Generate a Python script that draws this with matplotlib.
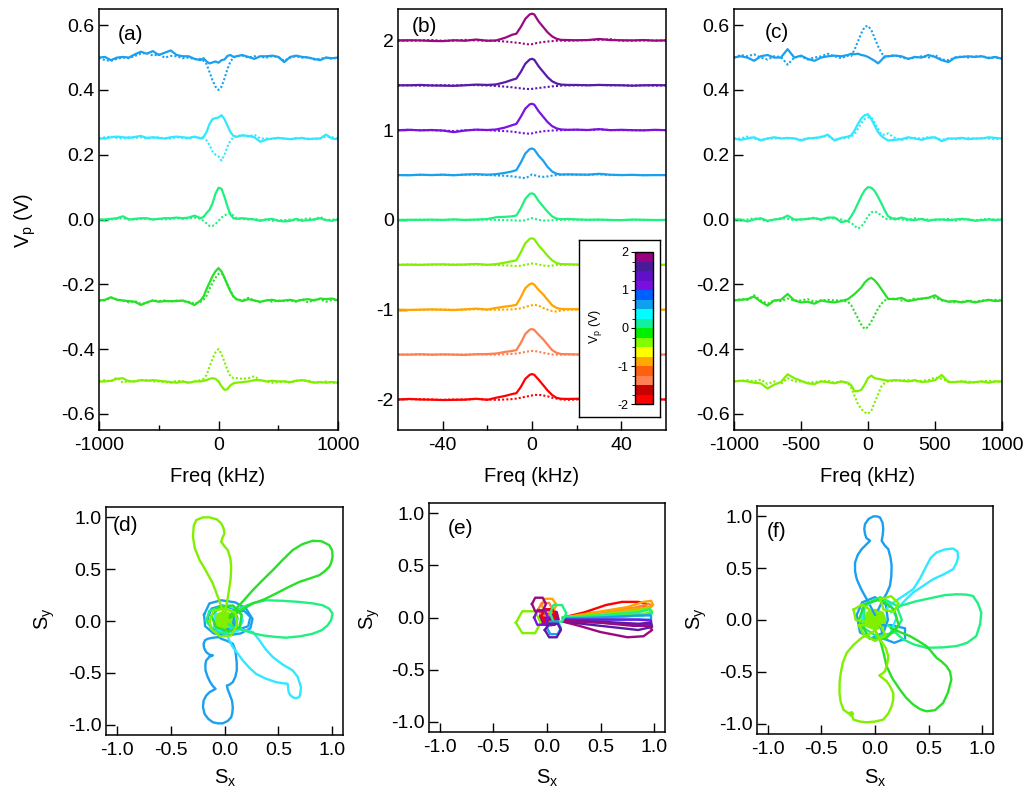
import numpy as np
import matplotlib
matplotlib.use("Agg")
import matplotlib.pyplot as plt
from matplotlib.colors import ListedColormap, BoundaryNorm
from matplotlib.cm import ScalarMappable
from matplotlib.ticker import FormatStrFormatter

plt.rcParams['font.family'] = ['Liberation Sans', 'DejaVu Sans']
plt.rcParams['font.size'] = 14
plt.rcParams['axes.unicode_minus'] = False
plt.rcParams['mathtext.default'] = 'regular'

# ---------------- colours (one per gate voltage Vp) ----------------
col_magenta = '#990a80'   # 2.0
col_indigo = '#5a1aa8'    # 1.5
col_violet = '#7a12e0'    # 1.0
col_blue = '#1aa0f0'      # 0.5
col_cyan = '#30e8ff'      # 0.25
col_aqua = '#20f080'      # 0.0
col_green = '#28e028'     # -0.25
col_yg = '#80f000'        # -0.5
col_orange = '#ffa500'    # -1.0
col_coral = '#ff7f50'     # -1.5
col_red = '#ff0000'       # -2.0

# colour scale of the inset (bottom to top, -2 .. 2 in steps of 0.25)
cb_colors = ['#ff0000', '#c80000', '#ff8050', '#ff6010', '#ffa800', '#ffff00',
             '#80ff00', '#00f000', '#10f0a0', '#00ffff', '#10a0f0', '#0060ff',
             '#7a10e0', '#6010c8', '#4a1a9a', '#990080']

# ---------------- panels (a) and (c): wide sweep ----------------
freq_ac = [-1000, -950, -900, -850, -800, -750, -700, -650, -600, -550,
           -500, -450, -400, -350, -300, -250, -200, -150, -125, -100,
           -75, -50, -25, 0, 25, 50, 75, 100, 125, 150,
           200, 250, 300, 350, 400, 450, 500, 550, 600, 650,
           700, 750, 800, 850, 900, 950, 1000]
offsets_ac = [0.5, 0.25, 0.0, -0.25, -0.5]
colors_ac = [col_blue, col_cyan, col_aqua, col_green, col_yg]

# signal minus offset, solid and dotted traces of (a)
a_p50_solid = [0, 0.002, -0.008, 0.0, 0.002, 0.0, 0.01, 0.018, 0.012, 0.02,
               0.008, 0.015, 0.022, 0.008, 0.004, 0.004, -0.004, -0.008, -0.002, -0.012,
               -0.018, -0.015, -0.012, -0.016, -0.008, -0.006, 0.005, 0.008, 0.002, 0.004,
               0.008, 0.002, -0.004, 0.004, 0.004, 0.006, 0.002, -0.014, 0.002, 0.006,
               0.002, 0.0, -0.004, -0.008, 0.0, -0.002, 0.0]
a_p50_dot = [0, -0.008, -0.01, -0.004, 0.0, -0.002, 0.005, 0.012, 0.015, 0.006,
             0.01, 0.0, 0.005, 0.004, -0.002, 0.0, -0.005, -0.004, -0.01, -0.02,
             -0.045, -0.07, -0.09, -0.1, -0.09, -0.065, -0.035, -0.012, 0.0, 0.004,
             0.006, 0.0, 0.004, 0.002, 0.0, 0.004, 0.002, -0.01, 0.0, 0.004,
             0.0, 0.002, -0.006, -0.004, 0.0, -0.004, 0.0]
a_p25_solid = [0, 0.0, 0.004, 0.006, 0.004, 0.002, 0.005, 0.008, 0.002, 0.004,
               0.002, 0.0, 0.004, 0.006, 0.004, 0.002, 0.006, 0.0, 0.005, 0.02,
               0.045, 0.06, 0.063, 0.065, 0.072, 0.06, 0.04, 0.02, 0.008, 0.005,
               0.01, 0.008, 0.004, -0.01, -0.003, 0.0, 0.002, 0.0, -0.002, 0.0,
               0.002, -0.002, 0.0, 0.0, 0.012, 0.0, -0.002]
a_p25_dot = [0, 0.004, 0.006, 0.002, 0.0, 0.004, 0.002, 0.004, 0.0, 0.002,
             0.004, 0.0, 0.0, 0.004, 0.002, 0.0, 0.004, 0.002, 0.0, -0.006,
             -0.02, -0.04, -0.05, -0.055, -0.068, -0.05, -0.025, -0.006, 0.004, 0.008,
             0.01, 0.006, 0.012, 0.0, 0.0, -0.002, 0.002, 0.0, -0.002, 0.002,
             0.0, 0.0, -0.002, 0.0, 0.006, 0.004, 0.0]
a_0_solid = [0, 0.0, 0.002, 0.004, 0.01, 0.0, 0.002, 0.004, 0.004, 0.0,
             0.002, 0.004, 0.004, 0.006, 0.004, 0.006, 0.012, 0.004, 0.008, 0.02,
             0.03, 0.05, 0.08, 0.098, 0.095, 0.07, 0.04, 0.015, 0.004, 0.002,
             0.004, 0.002, 0.0, -0.004, 0.0, 0.002, -0.004, -0.006, -0.004, 0.002,
             -0.004, -0.002, 0.0, 0.004, -0.002, -0.004, 0.0]
a_0_dot = [0, -0.004, 0.0, 0.002, 0.004, 0.0, 0.0, 0.002, 0.002, 0.0,
           0.002, 0.0, 0.002, 0.004, 0.002, 0.004, 0.006, 0.002, -0.004, -0.012,
           -0.02, -0.02, -0.014, -0.004, 0.006, 0.012, 0.018, 0.02, 0.012, 0.004,
           0.002, 0.0, 0.002, -0.002, 0.0, -0.004, -0.002, -0.002, 0.0, -0.004,
           0.0, 0.004, 0.0, 0.008, -0.002, 0.0, 0.0]
a_m25_solid = [0, 0.002, 0.01, 0.002, 0.0, -0.002, -0.004, -0.014, -0.006, 0.0,
               -0.004, -0.002, -0.002, -0.002, 0.0, -0.006, -0.014, 0.0, 0.012, 0.035,
               0.055, 0.075, 0.09, 0.1, 0.09, 0.07, 0.048, 0.028, 0.012, 0.004,
               -0.002, 0.004, 0.0, -0.004, 0.0, 0.002, -0.002, 0.0, 0.002, -0.002,
               0.002, 0.004, 0.0, 0.006, 0.004, 0.006, 0.0]
a_m25_dot = [0, 0.0, 0.008, 0.004, 0.0, -0.006, -0.002, -0.01, -0.008, 0.0,
             -0.002, 0.0, -0.004, 0.0, -0.002, -0.004, -0.01, -0.004, 0.002, 0.015,
             0.035, 0.055, 0.07, 0.082, 0.085, 0.07, 0.05, 0.03, 0.012, 0.004,
             0.0, 0.008, 0.0, -0.006, 0.002, -0.004, 0.0, -0.002, 0.0, -0.004,
             0.004, -0.006, 0.002, 0.004, -0.004, 0.002, 0.0]
a_m50_solid = [0, 0.0, 0.002, 0.008, 0.01, 0.0, 0.0, 0.004, 0.002, 0.004,
               0.002, 0.0, -0.002, -0.004, 0.0, -0.004, 0.0, 0.0, 0.002, 0.004,
               0.008, 0.01, 0.008, 0.0, -0.015, -0.026, -0.024, -0.012, -0.006, -0.004,
               -0.002, 0.0, 0.004, 0.004, 0.0, 0.002, 0.0, 0.0, -0.002, 0.002,
               0.004, 0.0, -0.004, -0.002, -0.004, -0.002, -0.004]
a_m50_dot = [0, 0.004, 0.0, 0.012, -0.004, 0.002, 0.0, 0.004, 0.004, 0.0,
             0.0, -0.002, -0.004, 0.002, 0.0, -0.004, 0.0, 0.004, 0.008, 0.02,
             0.045, 0.07, 0.09, 0.1, 0.085, 0.06, 0.035, 0.015, 0.01, 0.01,
             0.008, 0.01, 0.016, 0.004, 0.0, -0.004, -0.002, 0.0, -0.004, 0.002,
             0.004, 0.002, -0.002, -0.004, 0.0, -0.004, -0.004]

# signal minus offset, solid and dotted traces of (c)
c_p50_solid = [0, 0.004, 0.0, -0.01, 0.004, 0.008, 0.0, 0.0, 0.026, 0.0,
               0.006, -0.004, -0.01, 0.0, 0.004, 0.006, 0.004, 0.008, 0.012, 0.01,
               0.012, 0.008, 0.006, 0.002, -0.004, -0.01, -0.018, -0.008, 0.004, 0.004,
               0.006, 0.004, -0.004, 0.002, 0.0, 0.008, 0.002, -0.008, -0.014, 0.0,
               0.002, 0.004, 0.002, 0.004, -0.002, 0.002, -0.004]
c_p50_dot = [0, 0.008, 0.004, 0.01, 0.0, -0.006, 0.004, 0.002, -0.022, 0.0,
             0.004, -0.006, 0.0, 0.004, 0.012, 0.004, -0.002, 0.006, 0.005, 0.025,
             0.05, 0.075, 0.095, 0.098, 0.085, 0.06, 0.035, 0.015, 0.0, 0.004,
             0.008, 0.0, -0.004, 0.0, 0.004, 0.0, 0.008, -0.006, -0.008, 0.0,
             0.004, 0.0, 0.004, 0.004, 0.0, 0.0, -0.002]
c_p25_solid = [0, -0.004, 0.0, 0.004, -0.006, 0.0, 0.004, 0.0, 0.002, 0.0,
               -0.006, 0.0, 0.002, 0.004, 0.012, -0.006, 0.002, 0.006, 0.01, 0.025,
               0.045, 0.062, 0.072, 0.075, 0.06, 0.04, 0.02, 0.008, 0.0, -0.006,
               -0.004, -0.002, 0.004, 0.0, -0.004, 0.002, 0.004, -0.008, 0.0, 0.0,
               0.002, -0.002, 0.0, 0.0, 0.004, 0.002, 0.0]
c_p25_dot = [0, 0.0, 0.006, 0.0, -0.004, 0.0, 0.0, 0.002, 0.0, 0.002,
             -0.004, 0.002, 0.0, 0.006, 0.008, -0.004, 0.0, 0.002, 0.006, 0.015,
             0.03, 0.048, 0.06, 0.065, 0.065, 0.05, 0.03, 0.012, 0.012, 0.016,
             0.002, -0.004, 0.0, 0.002, 0.0, 0.004, 0.002, -0.004, 0.0, -0.002,
             0.0, 0.002, 0.0, 0.002, 0.0, -0.002, 0.0]
c_0_solid = [0, 0.0, -0.006, 0.0, 0.004, -0.004, 0.0, 0.002, 0.012, 0.0,
             0.0, 0.002, 0.004, 0.0, 0.006, 0.006, -0.008, -0.004, 0.01, 0.028,
             0.05, 0.072, 0.09, 0.1, 0.098, 0.088, 0.07, 0.05, 0.028, 0.01,
             0.0, 0.006, 0.0, -0.002, 0.002, -0.004, 0.0, 0.0, -0.002, 0.0,
             0.002, 0.0, -0.004, -0.002, 0.0, -0.002, 0.0]
c_0_dot = [0, -0.002, 0.0, 0.004, 0.0, -0.006, 0.0, 0.004, 0.002, -0.002,
           0.0, 0.002, 0.006, -0.002, 0.004, 0.004, 0.0, -0.006, -0.01, -0.02,
           -0.028, -0.022, -0.008, 0.01, 0.022, 0.025, 0.02, 0.012, 0.004, 0.0,
           0.004, 0.0, -0.002, 0.004, 0.0, 0.0, -0.002, 0.0, 0.002, -0.004,
           0.0, 0.0, -0.002, 0.0, 0.002, 0.0, 0.0]
c_m25_solid = [0, 0.002, 0.004, 0.012, -0.004, -0.016, 0.0, 0.002, 0.02, 0.0,
               -0.006, -0.004, -0.01, 0.0, -0.004, -0.006, -0.002, 0.004, 0.012, 0.02,
               0.03, 0.04, 0.055, 0.065, 0.07, 0.062, 0.05, 0.035, 0.02, 0.005,
               0.004, 0.008, -0.002, 0.002, 0.006, 0.008, 0.016, 0.002, -0.004, -0.002,
               -0.006, -0.002, -0.006, -0.002, 0.002, -0.002, 0.0]
c_m25_dot = [0, 0.004, 0.002, 0.016, 0.0, -0.01, 0.0, -0.002, 0.006, 0.0,
             0.0, 0.004, -0.004, 0.0, 0.002, 0.0, 0.0, -0.004, -0.015, -0.035,
             -0.055, -0.075, -0.088, -0.082, -0.065, -0.045, -0.025, -0.01, 0.0, 0.004,
             0.006, 0.0, 0.0, 0.006, 0.004, 0.01, 0.008, 0.0, -0.002, -0.006,
             -0.004, 0.0, -0.004, 0.0, 0.0, 0.002, 0.0]
c_m50_solid = [0, 0.002, 0.0, -0.004, -0.006, -0.022, -0.01, -0.002, 0.022, 0.01,
               0.002, -0.006, -0.008, 0.0, -0.002, -0.006, 0.0, -0.004, -0.012, -0.03,
               -0.03, -0.026, -0.01, 0.01, 0.018, 0.01, 0.008, 0.006, 0.004, 0.002,
               0.004, 0.002, 0.0, 0.004, -0.002, 0.0, 0.004, 0.02, -0.002, -0.002,
               0.0, -0.004, -0.002, 0.0, -0.004, 0.0, 0.0]
c_m50_dot = [0, 0.002, 0.004, 0.0, 0.006, -0.008, 0.0, -0.008, 0.01, 0.0,
             0.0, -0.004, -0.002, 0.0, 0.002, -0.004, 0.0, -0.006, -0.02, -0.045,
             -0.07, -0.085, -0.095, -0.1, -0.09, -0.065, -0.04, -0.015, -0.005, 0.0,
             0.002, 0.004, 0.004, 0.0, 0.002, 0.004, 0.012, 0.008, 0.0, -0.002,
             0.0, 0.0, -0.004, 0.0, 0.002, 0.0, -0.002]

# ---------------- panel (b): narrow sweep ----------------
freq_b = [-60, -55, -50, -45, -40, -35, -30, -25, -20,
          -16, -12, -9, -7, -5, -3, -1, 0, 1, 3, 5, 7, 9, 11, 13, 16,
          20, 25, 30, 35, 40, 45, 50, 55, 60]
offsets_b = [2.0, 1.5, 1.0, 0.5, 0.0, -0.5, -1.0, -1.5, -2.0]
colors_b = [col_magenta, col_indigo, col_violet, col_blue, col_aqua,
            col_yg, col_orange, col_coral, col_red]

b_p200_solid = [0.0, 0.002, 0.0, -0.006, -0.008, 0.002, -0.004, 0.01, -0.004,
                0.0, 0.03, 0.062, 0.075, 0.15, 0.24, 0.29, 0.298, 0.29, 0.21, 0.15, 0.09, 0.045, 0.018, 0.006, 0.004,
                0.002, 0.004, 0.016, 0.004, 0.002, 0.0, 0.004, -0.002, 0.0]
b_p150_solid = [0.0, 0.0, 0.004, -0.002, -0.004, -0.006, 0.0, 0.008, 0.004,
                0.01, 0.035, 0.06, 0.075, 0.15, 0.24, 0.288, 0.295, 0.285, 0.21, 0.15, 0.09, 0.045, 0.02, 0.008, 0.004,
                0.004, 0.0, 0.004, 0.002, 0.0, -0.004, 0.0, 0.002, 0.0]
b_p100_solid = [0.0, 0.004, -0.002, 0.002, -0.004, -0.022, -0.004, 0.006, 0.002,
                0.008, 0.03, 0.055, 0.07, 0.15, 0.24, 0.288, 0.294, 0.285, 0.21, 0.15, 0.09, 0.045, 0.02, 0.008, 0.004,
                0.006, 0.002, 0.012, 0.0, 0.004, 0.0, -0.002, 0.004, 0.0]
b_p050_solid = [0.0, -0.002, 0.004, 0.0, 0.004, -0.002, 0.006, 0.01, 0.004,
                0.01, 0.025, 0.04, 0.055, 0.14, 0.24, 0.29, 0.296, 0.285, 0.215, 0.16, 0.09, 0.04, 0.015, 0.006, 0.008,
                0.006, 0.004, 0.014, 0.004, 0.0, 0.002, -0.002, 0.0, 0.0]
b_0_solid = [0.0, 0.002, 0.0, 0.004, 0.0, 0.006, 0.0, 0.004, 0.01,
             0.03, 0.035, 0.04, 0.05, 0.13, 0.235, 0.29, 0.297, 0.285, 0.21, 0.15, 0.09, 0.04, 0.015, 0.008, 0.012,
             0.006, 0.002, 0.004, 0.0, -0.002, 0.004, 0.002, 0.0, 0.0]
b_m050_solid = [0.0, 0.002, 0.0, 0.004, 0.006, 0.0, 0.004, 0.01, 0.0,
                0.008, 0.025, 0.04, 0.05, 0.14, 0.24, 0.29, 0.296, 0.285, 0.215, 0.16, 0.1, 0.05, 0.02, 0.008, 0.006,
                0.004, 0.002, 0.0, 0.004, 0.0, 0.002, 0.0, 0.002, 0.0]
b_m100_solid = [0.0, -0.002, 0.0, 0.004, 0.0, -0.004, 0.004, 0.012, 0.002,
                0.02, 0.035, 0.045, 0.055, 0.14, 0.24, 0.285, 0.294, 0.28, 0.22, 0.17, 0.11, 0.05, 0.02, 0.008, 0.006,
                0.006, 0.004, 0.0, 0.002, 0.0, 0.0, 0.002, 0.0, 0.0]
b_m150_solid = [0.0, 0.0, 0.004, 0.0, 0.002, 0.0, -0.004, 0.004, 0.006,
                0.012, 0.03, 0.04, 0.05, 0.13, 0.23, 0.278, 0.285, 0.275, 0.22, 0.17, 0.11, 0.05, 0.02, 0.006, 0.004,
                0.002, 0.0, 0.002, 0.0, 0.0, 0.002, 0.0, 0.0, 0.0]
b_m200_solid = [0.0, 0.006, 0.0, -0.002, -0.006, -0.004, -0.002, 0.008, -0.004,
                0.02, 0.04, 0.06, 0.07, 0.14, 0.23, 0.275, 0.283, 0.275, 0.22, 0.16, 0.1, 0.05, 0.018, 0.008, 0.006,
                0.008, 0.004, 0.0, 0.002, 0.0, 0.0, 0.0, 0.0, 0.0]

b_p200_dot = [0.0, -0.004, 0.0, 0.004, -0.004, -0.002, 0.006, 0.0, -0.002,
              -0.006, -0.012, -0.02, -0.025, -0.03, -0.04, -0.045, -0.042, -0.035, -0.025, -0.018, -0.012, -0.008, -0.004, -0.002, -0.004,
              0.0, 0.004, 0.006, 0.014, -0.004, -0.002, 0.0, -0.002, 0.0]
b_p150_dot = [0.0, 0.0, -0.004, 0.0, 0.002, -0.002, 0.004, 0.002, -0.002,
              -0.008, -0.015, -0.022, -0.028, -0.034, -0.04, -0.042, -0.04, -0.036, -0.03, -0.024, -0.018, -0.012, -0.008, -0.004, -0.002,
              0.0, 0.002, 0.004, 0.0, 0.002, -0.004, 0.0, -0.004, 0.0]
b_p100_dot = [0.0, 0.004, 0.0, 0.0, -0.004, -0.01, 0.0, 0.004, 0.0,
              -0.006, -0.01, -0.016, -0.022, -0.03, -0.036, -0.04, -0.036, -0.028, -0.02, -0.012, -0.008, -0.004, -0.002, 0.0, 0.002,
              0.004, 0.0, 0.008, 0.002, 0.0, 0.0, 0.0, 0.002, 0.0]
b_p050_dot = [0.0, 0.0, 0.002, 0.0, 0.004, 0.0, 0.004, 0.006, 0.0,
              -0.004, -0.008, -0.014, -0.02, -0.028, -0.035, -0.01, 0.008, 0.0, -0.015, -0.02, -0.015, -0.006, 0.0, 0.004, 0.006,
              0.004, 0.004, 0.008, 0.0, 0.0, 0.002, 0.0, 0.0, 0.0]
b_0_dot = [0.0, 0.0, 0.004, 0.0, 0.0, 0.004, 0.0, 0.002, 0.004,
           0.0, -0.002, -0.004, -0.006, -0.008, -0.004, 0.012, 0.02, 0.015, 0.0, -0.006, -0.006, -0.004, 0.0, 0.002, 0.004,
           0.002, 0.0, 0.002, 0.0, -0.002, 0.002, 0.0, -0.002, 0.0]
b_m050_dot = [0.0, 0.004, 0.0, 0.002, 0.0, 0.004, 0.0, 0.004, 0.0,
              -0.002, -0.006, -0.01, -0.012, -0.01, 0.0, 0.01, 0.015, 0.012, 0.004, -0.008, -0.012, -0.008, -0.002, 0.0, 0.002,
              0.0, 0.002, 0.0, 0.0, 0.002, 0.0, 0.0, 0.0, 0.0]
b_m100_dot = [0.0, -0.004, 0.0, 0.0, 0.002, 0.0, 0.0, 0.006, 0.0,
              0.0, 0.002, 0.004, 0.008, 0.015, 0.03, 0.045, 0.05, 0.055, 0.045, 0.02, 0.0, -0.015, -0.02, -0.01, 0.0,
              0.002, 0.0, 0.0, 0.0, 0.0, 0.0, 0.0, 0.0, 0.0]
b_m150_dot = [0.0, 0.0, 0.0, -0.004, 0.002, 0.0, 0.002, 0.004, 0.0,
              0.0, 0.004, 0.008, 0.012, 0.02, 0.03, 0.038, 0.04, 0.04, 0.032, 0.02, 0.01, 0.002, -0.002, 0.0, 0.002,
              0.0, 0.0, 0.0, 0.0, 0.0, 0.0, 0.0, 0.0, 0.0]
b_m200_dot = [0.0, 0.004, 0.002, 0.0, -0.004, 0.0, 0.0, 0.006, 0.0,
              -0.004, 0.0, 0.004, 0.01, 0.02, 0.03, 0.04, 0.045, 0.05, 0.052, 0.045, 0.035, 0.02, 0.01, 0.0, -0.004,
              0.0, 0.0, 0.0, 0.0, 0.0, 0.0, 0.0, 0.0, 0.0]

# ---------------- panel (d): Sx, Sy trajectories ----------------
d_yg_petal = [(0.0, 0.05), (-0.05, 0.2), (-0.108, 0.361), (-0.17, 0.48), (-0.231, 0.587),
              (-0.275, 0.7), (-0.293, 0.813), (-0.285, 0.92), (-0.262, 0.974), (-0.2, 1.0),
              (-0.139, 1.0), (-0.07, 0.98), (-0.031, 0.942), (-0.01, 0.9), (0.0, 0.845),
              (-0.02, 0.8), (-0.031, 0.765), (0.0, 0.72), (0.031, 0.684), (0.055, 0.6),
              (0.062, 0.523), (0.058, 0.42), (0.046, 0.329), (0.03, 0.22), (0.015, 0.135), (0.0, 0.05)]
d_green_petal = [(0.05, 0.05), (0.108, 0.12), (0.18, 0.2), (0.262, 0.297), (0.35, 0.39),
                 (0.448, 0.49), (0.54, 0.59), (0.633, 0.684), (0.72, 0.74), (0.818, 0.774),
                 (0.9, 0.77), (0.972, 0.732), (1.0, 0.68), (1.003, 0.619), (0.99, 0.56),
                 (0.972, 0.523), (0.93, 0.48), (0.88, 0.442), (0.79, 0.41), (0.694, 0.377),
                 (0.58, 0.32), (0.478, 0.265), (0.37, 0.21), (0.262, 0.168), (0.18, 0.12),
                 (0.108, 0.071), (0.05, 0.03)]
d_aqua_petal = [(0.05, 0.05), (0.1, 0.1), (0.17, 0.135), (0.27, 0.175), (0.386, 0.2),
                (0.54, 0.195), (0.694, 0.184), (0.82, 0.17), (0.91, 0.152), (0.97, 0.12),
                (1.003, 0.071), (0.99, 0.01), (0.957, -0.042), (0.9, -0.09), (0.818, -0.123),
                (0.7, -0.148), (0.571, -0.161), (0.46, -0.152), (0.355, -0.139), (0.27, -0.12),
                (0.2, -0.097), (0.13, -0.075), (0.077, -0.058), (0.04, -0.03)]
d_cyan_petal = [(0.05, -0.06), (0.12, -0.08), (0.2, -0.09), (0.262, -0.106), (0.32, -0.18),
                (0.38, -0.27), (0.448, -0.348), (0.54, -0.42), (0.633, -0.477), (0.68, -0.54),
                (0.71, -0.639), (0.704, -0.7), (0.694, -0.735), (0.66, -0.745), (0.633, -0.735),
                (0.61, -0.715), (0.596, -0.687), (0.59, -0.64), (0.586, -0.606), (0.54, -0.6),
                (0.478, -0.59), (0.38, -0.555), (0.293, -0.51), (0.23, -0.45), (0.17, -0.381),
                (0.12, -0.31), (0.077, -0.252), (0.05, -0.2), (0.03, -0.15)]
d_blue_petal = [(-0.046, -0.155), (-0.031, -0.171), (0.02, -0.19), (0.077, -0.219), (0.1, -0.28),
                (0.108, -0.348), (0.114, -0.41), (0.114, -0.477), (0.1, -0.54), (0.077, -0.59),
                (0.045, -0.615), (0.022, -0.623), (0.03, -0.66), (0.046, -0.703), (0.07, -0.77),
                (0.077, -0.832), (0.072, -0.89), (0.062, -0.929), (0.03, -0.965), (-0.015, -0.987),
                (-0.06, -0.988), (-0.108, -0.977), (-0.15, -0.945), (-0.185, -0.897), (-0.2, -0.83),
                (-0.194, -0.768), (-0.17, -0.72), (-0.139, -0.687), (-0.083, -0.655), (-0.11, -0.625),
                (-0.133, -0.59), (-0.16, -0.53), (-0.176, -0.477), (-0.178, -0.42), (-0.17, -0.381),
                (-0.14, -0.345), (-0.108, -0.332), (-0.14, -0.325), (-0.17, -0.3), (-0.19, -0.26),
                (-0.194, -0.219), (-0.18, -0.185), (-0.154, -0.171), (-0.1, -0.16), (-0.046, -0.155)]
d_blue_ring1 = [(-0.19, 0.06), (-0.14, 0.17), (-0.03, 0.2), (0.1, 0.18), (0.2, 0.12), (0.26, 0.02),
                (0.24, -0.07), (0.15, -0.12), (0.02, -0.14), (-0.1, -0.12), (-0.18, -0.05), (-0.19, 0.06)]
d_blue_ring2 = [(-0.16, 0.02), (-0.12, 0.12), (-0.02, 0.15), (0.08, 0.12), (0.12, 0.03),
                (0.08, -0.06), (-0.02, -0.1), (-0.12, -0.07), (-0.16, 0.02)]
d_blue_ring3 = [(0.1, 0.08), (0.18, 0.1), (0.24, 0.04), (0.22, -0.05), (0.14, -0.08), (0.08, -0.02), (0.1, 0.08)]
d_cyan_ring = [(-0.08, 0.1), (0.03, 0.15), (0.14, 0.1), (0.17, 0.0), (0.12, -0.1), (0.0, -0.12),
               (-0.1, -0.06), (-0.08, 0.1)]
d_aqua_ring = [(-0.17, 0.0), (-0.14, 0.1), (-0.04, 0.13), (0.06, 0.1), (0.12, 0.02), (0.1, -0.08),
               (0.0, -0.12), (-0.1, -0.1), (-0.17, 0.0)]
d_green_ring = [(-0.12, 0.05), (-0.05, 0.14), (0.08, 0.15), (0.16, 0.06), (0.14, -0.06),
                (0.04, -0.1), (-0.08, -0.06), (-0.12, 0.05)]
d_yg_ring = [(-0.14, 0.0), (-0.1, 0.1), (0.0, 0.12), (0.1, 0.08), (0.12, -0.04), (0.06, -0.14),
             (-0.04, -0.15), (-0.12, -0.08), (-0.14, 0.0)]
d_core = [(-0.1, 0.0), (-0.08, 0.07), (0.0, 0.1), (0.08, 0.07), (0.11, 0.0), (0.08, -0.07),
          (0.0, -0.09), (-0.08, -0.06)]

# ---------------- panel (e) ----------------
e_red_petal = [(0.15, 0.0), (0.35, 0.05), (0.55, 0.12), (0.7, 0.15), (0.85, 0.15), (0.93, 0.13),
               (0.9, 0.1), (0.75, 0.08), (0.55, 0.04), (0.35, 0.01), (0.15, -0.01)]
e_coral_petal = [(0.15, 0.0), (0.5, 0.04), (0.8, 0.09), (0.95, 0.13), (0.98, 0.11), (0.93, 0.08),
                 (0.7, 0.05), (0.4, 0.02), (0.15, -0.01)]
e_orange_petal = [(0.15, 0.0), (0.45, 0.05), (0.75, 0.1), (0.9, 0.15), (0.97, 0.16), (0.99, 0.12),
                  (0.95, 0.1), (0.8, 0.08), (0.5, 0.03), (0.15, -0.01)]
e_yg_petal = [(0.15, 0.0), (0.5, 0.03), (0.8, 0.06), (0.95, 0.09), (0.98, 0.06), (0.93, 0.04),
              (0.7, 0.02), (0.4, 0.0), (0.15, -0.01)]
e_aqua_petal = [(0.15, 0.0), (0.5, 0.02), (0.85, 0.05), (0.96, 0.08), (0.98, 0.04), (0.9, 0.02),
                (0.6, 0.0), (0.15, -0.02)]
e_blue_petal = [(0.15, -0.01), (0.5, 0.0), (0.85, 0.02), (0.97, 0.02), (0.97, -0.02), (0.85, -0.02),
                (0.5, -0.02), (0.15, -0.02)]
e_violet_petal = [(0.15, -0.02), (0.5, -0.02), (0.85, -0.02), (0.97, -0.03), (0.97, -0.07),
                  (0.85, -0.07), (0.5, -0.05), (0.15, -0.03)]
e_indigo_petal = [(0.15, -0.03), (0.5, -0.04), (0.85, -0.06), (0.97, -0.05), (0.98, -0.09),
                  (0.85, -0.12), (0.5, -0.08), (0.15, -0.04)]
e_magenta_petal = [(0.15, -0.03), (0.5, -0.05), (0.8, -0.08), (0.95, -0.08), (0.98, -0.12),
                   (0.9, -0.18), (0.75, -0.19), (0.5, -0.14), (0.3, -0.08), (0.15, -0.04)]
e_yg_hex = [(-0.29, -0.05), (-0.23, 0.06), (-0.11, 0.06), (-0.06, -0.05), (-0.11, -0.15),
            (-0.23, -0.15), (-0.29, -0.05)]
e_magenta_hex = [(-0.14, 0.13), (-0.11, 0.19), (-0.04, 0.19), (-0.01, 0.13), (-0.04, 0.06),
                 (-0.11, 0.06), (-0.14, 0.13)]
e_orange_hex = [(-0.05, 0.12), (-0.02, 0.18), (0.05, 0.18), (0.09, 0.12), (0.05, 0.05),
                (-0.02, 0.05), (-0.05, 0.12)]
e_coral_hex = [(-0.08, 0.08), (-0.05, 0.14), (0.02, 0.14), (0.05, 0.08), (0.02, 0.02),
               (-0.05, 0.02), (-0.08, 0.08)]
e_red_hex = [(-0.05, 0.02), (-0.02, 0.08), (0.05, 0.08), (0.08, 0.02), (0.05, -0.04),
             (-0.02, -0.04), (-0.05, 0.02)]
e_aqua_hex = [(0.03, 0.04), (0.06, 0.12), (0.14, 0.12), (0.18, 0.04), (0.14, -0.04),
              (0.06, -0.04), (0.03, 0.04)]
e_blue_hex = [(0.0, -0.1), (0.03, -0.04), (0.1, -0.04), (0.13, -0.1), (0.1, -0.16),
              (0.03, -0.16), (0.0, -0.1)]
e_indigo_hex = [(-0.02, -0.12), (0.02, -0.06), (0.1, -0.06), (0.13, -0.12), (0.09, -0.19),
                (0.02, -0.19), (-0.02, -0.12)]
e_violet_hex = [(-0.12, 0.0), (-0.09, 0.07), (-0.02, 0.07), (0.01, 0.0), (-0.02, -0.07),
                (-0.09, -0.07), (-0.12, 0.0)]
e_core = [(-0.08, 0.0), (-0.06, 0.07), (0.02, 0.09), (0.1, 0.06), (0.12, -0.02), (0.08, -0.08),
          (0.0, -0.09), (-0.06, -0.06)]

# ---------------- panel (f) ----------------
f_blue_petal = [(0.0, 0.05), (-0.077, 0.2), (-0.13, 0.3), (-0.17, 0.394), (-0.186, 0.47),
                (-0.186, 0.555), (-0.16, 0.63), (-0.124, 0.684), (-0.08, 0.73), (-0.046, 0.765),
                (-0.08, 0.79), (-0.093, 0.829), (-0.1, 0.88), (-0.093, 0.926), (-0.06, 0.975),
                (-0.015, 1.0), (0.02, 1.0), (0.046, 0.99), (0.07, 0.94), (0.077, 0.877),
                (0.072, 0.82), (0.062, 0.765), (0.09, 0.72), (0.124, 0.684), (0.145, 0.6),
                (0.155, 0.523), (0.152, 0.42), (0.139, 0.329), (0.11, 0.26), (0.077, 0.2), (0.03, 0.1)]
f_cyan_petal = [(0.1, 0.1), (0.17, 0.168), (0.26, 0.23), (0.356, 0.297), (0.42, 0.4), (0.48, 0.523),
                (0.52, 0.6), (0.573, 0.652), (0.65, 0.68), (0.728, 0.69), (0.77, 0.66), (0.774, 0.603),
                (0.76, 0.55), (0.728, 0.49), (0.64, 0.44), (0.542, 0.394), (0.45, 0.33), (0.356, 0.265),
                (0.29, 0.2), (0.232, 0.135), (0.15, 0.08)]
f_aqua_petal = [(0.15, 0.08), (0.232, 0.135), (0.38, 0.18), (0.542, 0.216), (0.65, 0.24),
                (0.759, 0.248), (0.85, 0.245), (0.913, 0.232), (0.96, 0.16), (0.991, 0.071),
                (0.98, -0.04), (0.944, -0.155), (0.86, -0.22), (0.759, -0.252), (0.62, -0.265),
                (0.48, -0.268), (0.36, -0.235), (0.263, -0.187), (0.2, -0.13), (0.17, -0.09), (0.12, -0.05)]
f_green_petal = [(0.0, -0.1), (0.046, -0.187), (0.08, -0.32), (0.108, -0.445), (0.16, -0.56),
                 (0.232, -0.671), (0.29, -0.75), (0.356, -0.816), (0.42, -0.86), (0.48, -0.881),
                 (0.56, -0.87), (0.635, -0.8), (0.68, -0.7), (0.712, -0.574), (0.7, -0.5),
                 (0.666, -0.445), (0.62, -0.4), (0.573, -0.365), (0.53, -0.31), (0.48, -0.252),
                 (0.4, -0.2), (0.325, -0.155), (0.24, -0.12), (0.15, -0.08)]
f_yg_petal = [(0.0, -0.1), (-0.06, -0.14), (-0.124, -0.171), (-0.2, -0.24), (-0.263, -0.316),
              (-0.3, -0.41), (-0.319, -0.51), (-0.33, -0.6), (-0.331, -0.703), (-0.32, -0.79),
              (-0.294, -0.865), (-0.25, -0.9), (-0.215, -0.89), (-0.205, -0.905), (-0.215, -0.925),
              (-0.235, -0.915), (-0.225, -0.9), (-0.201, -0.961), (-0.14, -0.98), (-0.077, -0.987),
              (0.0, -0.98), (0.077, -0.961), (0.125, -0.9), (0.155, -0.832), (0.17, -0.77),
              (0.17, -0.703), (0.14, -0.64), (0.108, -0.59), (0.07, -0.56), (0.04, -0.535),
              (0.07, -0.515), (0.093, -0.494), (0.115, -0.42), (0.124, -0.348), (0.1, -0.27),
              (0.046, -0.187), (0.0, -0.1)]
f_blue_ring1 = [(-0.17, 0.05), (-0.12, 0.17), (0.0, 0.22), (0.1, 0.15), (0.12, 0.0), (0.08, -0.12),
                (-0.04, -0.18), (-0.14, -0.12), (-0.17, 0.05)]
f_blue_ring2 = [(0.05, -0.05), (0.15, -0.05), (0.28, -0.08), (0.28, -0.18), (0.18, -0.22),
                (0.08, -0.18), (0.05, -0.05)]
f_cyan_ring = [(-0.12, 0.1), (0.0, 0.2), (0.14, 0.16), (0.2, 0.02), (0.14, -0.14), (0.0, -0.2),
               (-0.12, -0.12), (-0.12, 0.1)]
f_aqua_ring = [(-0.1, 0.15), (0.05, 0.22), (0.2, 0.14), (0.25, 0.0), (0.18, -0.12), (0.02, -0.16),
               (-0.1, -0.08), (-0.1, 0.15)]
f_green_ring = [(-0.15, 0.0), (-0.1, 0.15), (0.05, 0.2), (0.18, 0.1), (0.22, -0.05), (0.1, -0.18),
                (-0.05, -0.18), (-0.15, 0.0)]
f_yg_ring1 = [(-0.2, 0.1), (-0.18, 0.0), (-0.08, -0.02), (-0.05, 0.1), (-0.12, 0.15), (-0.2, 0.1)]
f_yg_ring2 = [(0.05, 0.2), (0.15, 0.23), (0.22, 0.16), (0.18, 0.08), (0.08, 0.1), (0.05, 0.2)]
f_yg_ring3 = [(-0.15, -0.05), (-0.1, -0.15), (0.0, -0.2), (0.1, -0.15), (0.05, -0.05), (-0.15, -0.05)]
f_core = [(-0.1, 0.0), (-0.08, 0.08), (0.0, 0.11), (0.08, 0.08), (0.11, 0.0), (0.08, -0.08),
          (0.0, -0.1), (-0.08, -0.07)]

# ---------------- figure ----------------
fig = plt.figure(figsize=(10.3, 7.94), dpi=100)

W, H = 1030.0, 794.0


def px_axes(x0, y0, x1, y1, **kw):
    # rectangle given in pixel coordinates (top-left origin)
    return fig.add_axes([x0 / W, 1 - y1 / H, (x1 - x0) / W, (y1 - y0) / H], **kw)


def style(ax):
    for s in ax.spines.values():
        s.set_linewidth(1.1)
    ax.tick_params(which='both', direction='in', width=1.0, labelsize=14)
    ax.tick_params(which='major', length=6.5)
    ax.tick_params(which='minor', length=3.5)
    ax.tick_params(axis='x', pad=5)
    ax.tick_params(axis='y', pad=3)


solid_kw = dict(lw=1.6, solid_joinstyle='round')
dot_kw = dict(lw=1.5, linestyle=(0, (1, 1)))

# (a)
ax_a = px_axes(99, 9, 338, 430)
a_solid = [a_p50_solid, a_p25_solid, a_0_solid, a_m25_solid, a_m50_solid]
a_dot = [a_p50_dot, a_p25_dot, a_0_dot, a_m25_dot, a_m50_dot]
for off, col, s, d in zip(offsets_ac, colors_ac, a_solid, a_dot):
    ax_a.plot(freq_ac, off + np.array(d), color=col, **dot_kw)
    ax_a.plot(freq_ac, off + np.array(s), color=col, **solid_kw)
ax_a.set_xlim(-1000, 1000)
ax_a.set_ylim(-0.65, 0.65)
ax_a.set_xticks([-1000, 0, 1000])
ax_a.set_xticks([-500, 500], minor=True)
ax_a.set_yticks([0.6, 0.4, 0.2, 0.0, -0.2, -0.4, -0.6])
ax_a.yaxis.set_major_formatter(FormatStrFormatter('%.1f'))
style(ax_a)
ax_a.text(0.08, 0.94, '(a)', transform=ax_a.transAxes, fontsize=15, va='center')

# (b)
ax_b = px_axes(398, 9, 666, 430)
b_solid = [b_p200_solid, b_p150_solid, b_p100_solid, b_p050_solid, b_0_solid,
           b_m050_solid, b_m100_solid, b_m150_solid, b_m200_solid]
b_dot = [b_p200_dot, b_p150_dot, b_p100_dot, b_p050_dot, b_0_dot,
         b_m050_dot, b_m100_dot, b_m150_dot, b_m200_dot]
for off, col, s, d in zip(offsets_b, colors_b, b_solid, b_dot):
    ax_b.plot(freq_b, off + np.array(d), color=col, **dot_kw)
    ax_b.plot(freq_b, off + np.array(s), color=col, **solid_kw)
ax_b.set_xlim(-60, 60)
ax_b.set_ylim(-2.34, 2.35)
ax_b.set_xticks([-40, 0, 40])
ax_b.set_xticks([-20, 20], minor=True)
ax_b.set_yticks([2, 1, 0, -1, -2])
style(ax_b)
ax_b.text(0.05, 0.958, '(b)', transform=ax_b.transAxes, fontsize=15, va='center')

# inset colour scale in (b)
box = px_axes(579, 240, 660, 417)
box.set_facecolor('white')
box.set_xticks([])
box.set_yticks([])
for s in box.spines.values():
    s.set_linewidth(1.0)
cax = px_axes(635, 252, 653, 404)
cmap = ListedColormap(cb_colors)
norm = BoundaryNorm(np.arange(-2, 2.01, 0.25), cmap.N)
cb = fig.colorbar(ScalarMappable(norm=norm, cmap=cmap), cax=cax, ticks=[-2, -1, 0, 1, 2])
cb.outline.set_linewidth(1.0)
cax.yaxis.set_ticks_position('left')
cax.tick_params(labelsize=9, length=3, width=0.8, pad=2)
fig.text(596 / W, 1 - 326 / H, 'V$_p$ (V)', rotation=90, ha='center', va='center', fontsize=9)

# (c)
ax_c = px_axes(734, 9, 1002, 430)
c_solid = [c_p50_solid, c_p25_solid, c_0_solid, c_m25_solid, c_m50_solid]
c_dot = [c_p50_dot, c_p25_dot, c_0_dot, c_m25_dot, c_m50_dot]
for off, col, s, d in zip(offsets_ac, colors_ac, c_solid, c_dot):
    ax_c.plot(freq_ac, off + np.array(d), color=col, **dot_kw)
    ax_c.plot(freq_ac, off + np.array(s), color=col, **solid_kw)
ax_c.set_xlim(-1000, 1000)
ax_c.set_ylim(-0.65, 0.65)
ax_c.set_xticks([-1000, -500, 0, 500, 1000])
ax_c.set_yticks([0.6, 0.4, 0.2, 0.0, -0.2, -0.4, -0.6])
ax_c.yaxis.set_major_formatter(FormatStrFormatter('%.1f'))
style(ax_c)
ax_c.text(0.116, 0.944, '(c)', transform=ax_c.transAxes, fontsize=15, va='center')


def draw_loops(ax, items, core, core_col):
    for pts, col in items:
        xs = [p[0] for p in pts]
        ys = [p[1] for p in pts]
        ax.plot(xs, ys, color=col, lw=1.7, solid_joinstyle='round')
    ax.fill([p[0] for p in core], [p[1] for p in core], color=core_col, lw=0)


def style_s(ax):
    ax.set_xlim(-1.1, 1.1)
    ax.set_ylim(-1.1, 1.1)
    ticks = [-1.0, -0.5, 0.0, 0.5, 1.0]
    ax.set_xticks(ticks)
    ax.set_yticks(ticks)
    ax.xaxis.set_major_formatter(FormatStrFormatter('%.1f'))
    ax.yaxis.set_major_formatter(FormatStrFormatter('%.1f'))
    style(ax)


# (d)
ax_d = px_axes(106, 507, 343, 735)
draw_loops(ax_d, [(d_blue_ring1, col_blue), (d_blue_ring2, col_blue), (d_blue_ring3, col_blue),
                  (d_blue_petal, col_blue), (d_cyan_ring, col_cyan), (d_cyan_petal, col_cyan),
                  (d_aqua_ring, col_aqua), (d_aqua_petal, col_aqua),
                  (d_green_ring, col_green), (d_green_petal, col_green),
                  (d_yg_ring, col_yg), (d_yg_petal, col_yg)], d_core, col_yg)
style_s(ax_d)
ax_d.text(0.03, 0.92, '(d)', transform=ax_d.transAxes, fontsize=15, va='center')

# (e)
ax_e = px_axes(429, 503, 665, 732)
draw_loops(ax_e, [(e_yg_hex, col_yg), (e_red_petal, col_red), (e_coral_petal, col_coral),
                  (e_orange_petal, col_orange), (e_yg_petal, col_yg), (e_aqua_petal, col_aqua),
                  (e_blue_petal, col_blue), (e_violet_petal, col_violet),
                  (e_indigo_petal, col_indigo), (e_magenta_petal, col_magenta),
                  (e_orange_hex, col_orange), (e_coral_hex, col_coral), (e_red_hex, col_red),
                  (e_aqua_hex, col_aqua), (e_blue_hex, col_blue), (e_violet_hex, col_violet),
                  (e_indigo_hex, col_indigo), (e_magenta_hex, col_magenta)], e_core, col_magenta)
style_s(ax_e)
ax_e.text(0.08, 0.89, '(e)', transform=ax_e.transAxes, fontsize=15, va='center')

# (f)
ax_f = px_axes(757, 506, 993, 734)
draw_loops(ax_f, [(f_blue_ring1, col_blue), (f_blue_ring2, col_blue), (f_blue_petal, col_blue),
                  (f_cyan_ring, col_cyan), (f_cyan_petal, col_cyan),
                  (f_aqua_ring, col_aqua), (f_aqua_petal, col_aqua),
                  (f_green_ring, col_green), (f_green_petal, col_green),
                  (f_yg_ring1, col_yg), (f_yg_ring2, col_yg), (f_yg_ring3, col_yg),
                  (f_yg_petal, col_yg)], f_core, col_yg)
style_s(ax_f)
ax_f.text(0.042, 0.886, '(f)', transform=ax_f.transAxes, fontsize=15, va='center')

# axis titles
lab = dict(ha='center', va='center', fontsize=14.5)
fig.text(25 / W, 1 - 220 / H, 'V$_p$ (V)', rotation=90, **lab)
for xc in (218, 532, 868):
    fig.text(xc / W, 1 - 476 / H, 'Freq (kHz)', **lab)
for xc in (225, 547, 875):
    fig.text(xc / W, 1 - 778 / H, 'S$_x$', **lab)
for xc in (45, 370, 697):
    fig.text(xc / W, 1 - 619 / H, 'S$_y$', rotation=90, **lab)

fig.savefig('out.png', dpi=100)
